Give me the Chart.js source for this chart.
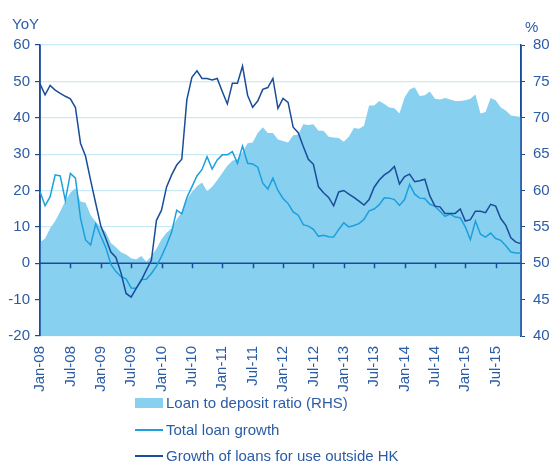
<!DOCTYPE html>
<html>
<head>
<meta charset="utf-8">
<script src="https://cdn.jsdelivr.net/npm/chart.js@4.4.1/dist/chart.umd.min.js"></script>
<style>
  body { margin: 0; background: #fff; }
  #wrap { position: relative; width: 550px; height: 463px; font-family: "Liberation Sans", Arial, sans-serif; color: #2b5ca6; }
  #chart { position: absolute; left: 0; top: 0; }
  .unit { position: absolute; font-size: 15px; line-height: 15px; }
  .row { position: absolute; left: 135px; height: 16px; display: flex; align-items: center; font-size: 15px; line-height: 16px; white-space: nowrap; }
  .swatch { width: 28px; margin-right: 3px; }
</style>
</head>
<body>
<div id="wrap">
  <canvas id="chart" width="550" height="463"></canvas>
  <span class="unit" style="left:12px; top:16px;">YoY</span>
  <span class="unit" style="left:525px; top:19px;">%</span>
  <div class="row" style="top:395px;"><span class="swatch" style="height:10px; background:#88d0f0;"></span>Loan to deposit ratio (RHS)</div>
  <div class="row" style="top:422px;"><span class="swatch" style="height:2px; background:#1ba0dd;"></span>Total loan growth</div>
  <div class="row" style="top:448px;"><span class="swatch" style="height:2px; background:#1a4d99;"></span>Growth of loans for use outside HK</div>
</div>
<script>
// Colours
const TEXT = '#2b5ca6';
const DARK = '#1a4d99';
const LIGHT = '#1ba0dd';
const AREA = '#88d0f0';
const GRID = '#c9ebf8';

// Monthly categories Jan-08 .. Dec-15
const monthNames = ['Jan', 'Feb', 'Mar', 'Apr', 'May', 'Jun', 'Jul', 'Aug', 'Sep', 'Oct', 'Nov', 'Dec'];
const years = ['08', '09', '10', '11', '12', '13', '14', '15'];
const months = [];
years.forEach(y => monthNames.forEach(m => months.push(m + '-' + y)));

// Tick values
const leftTicks = [-20, -10, 0, 10, 20, 30, 40, 50, 60];
const rightTicks = [40, 45, 50, 55, 60, 65, 70, 75, 80];

// Loan to deposit ratio, % (right axis)
const loanDepositRatio = [
  52.9, 53.4, 54.8, 55.8, 57.1, 58.6, 59.7, 60.3, 58.5, 58.3, 56.6, 55.7,
  55.0, 54.3, 52.8, 52.2, 51.5, 51.2, 50.7, 50.5, 51.0, 50.2, 51.0, 52.0,
  53.3, 54.2, 54.8, 56.0, 57.0, 58.8, 59.8, 60.6, 61.1, 59.9, 60.5, 61.4,
  62.4, 63.4, 64.1, 64.3, 65.3, 66.5, 66.6, 67.9, 68.7, 67.9, 67.9, 67.0,
  66.8, 66.6, 67.6, 67.7, 69.1, 69.0, 69.1, 68.2, 68.2, 67.4, 67.3, 67.2,
  66.7, 67.4, 68.6, 68.5, 68.9, 71.7, 71.7, 72.3, 71.9, 71.4, 71.3, 70.6,
  72.8, 73.9, 74.2, 73.0, 73.1, 73.6, 72.6, 72.5, 72.7, 72.5, 72.3, 72.3,
  72.4, 72.6, 73.2, 70.6, 70.8, 72.7, 72.4, 71.4, 71.0, 70.3, 70.2, 70.1
];

// Total loan growth, % yoy (left axis)
const totalLoanGrowth = [
  19.7, 15.8, 18.3, 24.3, 24.0, 17.3, 24.7, 23.4, 12.4, 6.4, 5.0, 10.8,
  7.5, 4.3, -0.3, -2.3, -3.7, -4.3, -6.8, -6.9, -4.5, -4.4, -2.8, -0.8,
  1.9, 5.0, 8.6, 14.6, 13.6, 18.0, 21.0, 24.0, 25.8, 29.3, 25.9, 28.4,
  29.8, 29.8, 30.7, 27.5, 32.2, 27.5, 27.3, 26.4, 22.0, 20.4, 23.4, 20.0,
  17.8, 16.4, 14.1, 13.2, 10.6, 10.2, 9.3, 7.4, 7.7, 7.3, 7.2, 9.3,
  11.1, 10.0, 10.4, 10.9, 12.1, 14.4, 14.9, 16.1, 18.0, 17.9, 17.5, 15.9,
  17.5, 21.7, 19.0, 17.9, 17.8, 16.2, 15.7, 14.3, 12.9, 13.5, 12.7, 12.5,
  10.0, 6.5, 11.6, 8.0, 7.2, 8.3, 6.8, 6.3, 4.8, 3.1, 2.8, 2.8
];

// Growth of loans for use outside HK, % yoy (left axis)
const outsideHkGrowth = [
  49.3, 46.3, 48.9, 47.6, 46.7, 45.9, 45.2, 42.8, 33.0, 29.4, 22.8, 16.5,
  10.3, 6.8, 3.1, 1.6, -2.7, -8.3, -9.3, -6.9, -4.7, -1.9, 0.8, 11.8,
  14.6, 21.0, 24.3, 27.0, 28.6, 44.9, 51.1, 52.9, 50.8, 50.8, 50.4, 50.8,
  47.2, 43.8, 49.5, 49.5, 54.2, 46.2, 42.9, 44.6, 47.8, 48.3, 50.8, 42.6,
  45.3, 44.2, 37.4, 35.9, 32.1, 28.6, 27.2, 21.0, 19.4, 18.1, 15.8, 19.6,
  20.0, 19.0, 18.1, 17.1, 16.0, 17.5, 20.9, 22.9, 24.3, 25.2, 26.6, 21.8,
  23.8, 24.5, 22.4, 22.7, 23.1, 18.5, 15.7, 15.5, 13.7, 13.7, 13.7, 14.9,
  11.6, 12.0, 14.3, 14.3, 13.9, 16.2, 15.7, 12.3, 10.4, 7.0, 5.8, 5.4
];

const font = { family: '"Liberation Sans", Arial, sans-serif', size: 15 };

// Zero line, x tick marks and axis lines drawn over the area, under the lines
const axisOverlay = {
  id: 'axisOverlay',
  afterDatasetDraw(chart, args) {
    if (args.index !== 2) return;
    const { ctx, chartArea: a, scales } = chart;
    const y0 = scales.y.getPixelForValue(0);
    ctx.save();
    ctx.strokeStyle = DARK;
    ctx.lineWidth = 1.5;
    ctx.beginPath();
    ctx.moveTo(a.left, y0);
    ctx.lineTo(a.right, y0);
    months.forEach((m, i) => {
      if (i % 6 !== 0 || i === 0) return;
      const x = Math.round(scales.x.getPixelForValue(i)) + 0.5;
      ctx.moveTo(x, y0);
      ctx.lineTo(x, y0 + 5);
    });
    ctx.moveTo(a.left, a.top);
    ctx.lineTo(a.left, a.bottom);
    ctx.moveTo(a.right, a.top);
    ctx.lineTo(a.right, a.bottom);
    ctx.stroke();
    ctx.restore();
  }
};

new Chart(document.getElementById('chart'), {
  type: 'line',
  data: {
    labels: months,
    datasets: [
      {
        label: 'Growth of loans for use outside HK',
        data: outsideHkGrowth,
        yAxisID: 'y',
        borderColor: DARK,
        borderWidth: 1.5,
        pointRadius: 0,
        fill: false,
        order: 0
      },
      {
        label: 'Total loan growth',
        data: totalLoanGrowth,
        yAxisID: 'y',
        borderColor: LIGHT,
        borderWidth: 1.5,
        pointRadius: 0,
        fill: false,
        order: 1
      },
      {
        label: 'Loan to deposit ratio (RHS)',
        data: loanDepositRatio,
        yAxisID: 'y1',
        borderWidth: 0,
        borderColor: AREA,
        backgroundColor: AREA,
        pointRadius: 0,
        fill: 'start',
        order: 2
      }
    ]
  },
  options: {
    responsive: false,
    animation: false,
    layout: { padding: { top: 45, left: 0, right: 0, bottom: 0 } },
    plugins: {
      legend: { display: false },
      tooltip: { enabled: false }
    },
    scales: {
      x: {
        offset: false,
        grid: { display: false },
        border: { display: false },
        ticks: {
          autoSkip: false,
          minRotation: 90,
          maxRotation: 90,
          padding: 2,
          color: TEXT,
          font: font,
          callback: (v, i) => (i % 6 === 0 ? months[i] : '')
        },
        afterFit: s => { s.height = 127; }
      },
      y: {
        position: 'left',
        min: leftTicks[0],
        max: leftTicks[leftTicks.length - 1],
        afterBuildTicks: s => { s.ticks = leftTicks.map(v => ({ value: v })); },
        grid: { color: GRID, tickColor: DARK, tickLength: 5, lineWidth: 1.2 },
        border: { color: DARK, width: 1.5 },
        ticks: { padding: 5, color: TEXT, font: font },
        afterFit: s => { s.width = 40; }
      },
      y1: {
        position: 'right',
        min: rightTicks[0],
        max: rightTicks[rightTicks.length - 1],
        afterBuildTicks: s => { s.ticks = rightTicks.map(v => ({ value: v })); },
        grid: { drawOnChartArea: false, color: DARK, tickLength: 4 },
        border: { color: DARK, width: 1.5 },
        ticks: { padding: 8, color: TEXT, font: font },
        afterFit: s => { s.width = 29; }
      }
    }
  },
  plugins: [axisOverlay]
});
</script>
</body>
</html>
